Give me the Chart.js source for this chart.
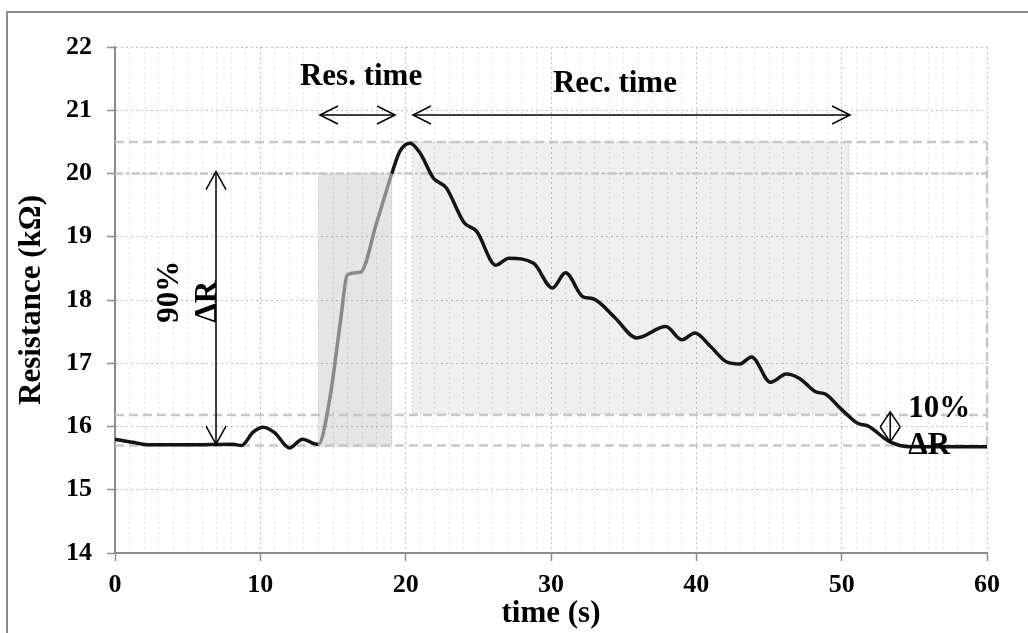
<!DOCTYPE html>
<html>
<head>
<meta charset="utf-8">
<script src="https://cdn.jsdelivr.net/npm/chart.js@4.4.1/dist/chart.umd.min.js"></script>
<style>
  html, body { margin: 0; padding: 0; background: #fff; }
  #wrap { position: relative; width: 1028px; height: 633px; }
</style>
</head>
<body>
<div id="wrap"><canvas id="resChart"></canvas></div>
<script>
// time (s)
const timeValues = [0, 1.2, 2.4, 5, 8.1, 8.7, 9.5, 10.2, 11.0, 12.0, 12.9, 13.9,
  14.0, 14.8, 15.5, 16.0, 16.9, 18.0, 19.05,
  19.6, 20.3, 21.0, 21.9, 22.8, 24.0, 24.9, 26.2, 27.1, 28.8, 30.1, 31.0, 32.2, 32.9,
  34.4, 35.9, 37.9, 39.0, 39.9, 41.0, 42.1, 43.0, 43.8, 45.1, 46.2, 47.1, 48.2, 48.9,
  49.9, 51.1, 51.8, 53.3, 54.7, 60];
// resistance (kΩ)
const resistanceValues = [15.80, 15.75, 15.71, 15.71, 15.72, 15.70, 15.91, 15.99, 15.90, 15.66, 15.80, 15.72,
  15.72, 16.47, 17.64, 18.40, 18.44, 19.22, 20.00,
  20.35, 20.48, 20.32, 19.93, 19.77, 19.23, 19.08, 18.55, 18.66, 18.58, 18.19, 18.43, 18.05, 18.02,
  17.72, 17.40, 17.58, 17.37, 17.48, 17.26, 17.02, 16.99, 17.10, 16.70, 16.83, 16.76, 16.55, 16.51,
  16.29, 16.05, 16.01, 15.76, 15.68, 15.68];

// response part of the curve (drawn grey)
const responseStart = 14.0;
const responseEnd = 19.05;

// y tick range
const yMin = 14, yMax = 22;
const xMin = 0, xMax = 60;

// reference levels (dashed) and shaded windows, in data units
const refLevels = [20.5, 20.0, 16.18, 15.70];
const resBox = [14.0, 19.05, 15.68, 20.0];   // x0, x1, y0, y1
const recBox = [20.45, 50.5, 16.2, 20.5];

const serif = '"Liberation Serif", "Times New Roman", serif';

// grab pixel helpers
function px(chart, x) { return chart.scales.x.getPixelForValue(x); }
function py(chart, y) { return chart.scales.y.getPixelForValue(y); }

// open V arrow head at (x, y) pointing in direction (dx, dy)
function arrowHead(ctx, x, y, dx, dy, len, half) {
  const l = Math.hypot(dx, dy);
  const ux = dx / l, uy = dy / l;
  const bx = x - ux * len, by = y - uy * len;
  ctx.beginPath();
  ctx.moveTo(bx - uy * half, by + ux * half);
  ctx.lineTo(x, y);
  ctx.lineTo(bx + uy * half, by - ux * half);
  ctx.stroke();
}

function doubleArrow(ctx, x1, y1, x2, y2, len, half) {
  ctx.beginPath();
  ctx.moveTo(x1, y1);
  ctx.lineTo(x2, y2);
  ctx.stroke();
  arrowHead(ctx, x2, y2, x2 - x1, y2 - y1, len, half);
  arrowHead(ctx, x1, y1, x1 - x2, y1 - y2, len, half);
}

const annotationPlugin = {
  id: 'annotations',
  beforeDraw(chart) {
    const ctx = chart.ctx;
    ctx.save();
    ctx.fillStyle = '#fff';
    ctx.fillRect(0, 0, chart.width, chart.height);
    // outer frame
    ctx.strokeStyle = '#8c8c8c';
    ctx.lineWidth = 2;
    ctx.beginPath();
    ctx.moveTo(7, chart.height);
    ctx.lineTo(7, 12);
    ctx.lineTo(chart.width, 12);
    ctx.stroke();
    ctx.restore();
  },
  beforeDatasetsDraw(chart) {
    const ctx = chart.ctx;
    ctx.save();
    // shaded windows
    [[resBox, 'rgba(150,150,150,0.25)'], [recBox, 'rgba(150,150,150,0.15)']].forEach(([b, fill]) => {
      const x0 = px(chart, b[0]), x1 = px(chart, b[1]);
      const y0 = py(chart, b[2]), y1 = py(chart, b[3]);
      ctx.fillStyle = fill;
      ctx.fillRect(x0, y1, x1 - x0, y0 - y1);
      ctx.strokeStyle = '#cfcfcf';
      ctx.lineWidth = 1;
      ctx.setLineDash([2, 2]);
      ctx.strokeRect(x0, y1, x1 - x0, y0 - y1);
    });
    // dashed reference levels
    ctx.strokeStyle = '#c8c8c8';
    ctx.lineWidth = 2.5;
    refLevels.forEach((v, i) => {
      ctx.setLineDash(i === 1 ? [8, 3, 3, 3] : [9, 5]);
      ctx.beginPath();
      ctx.moveTo(px(chart, xMin), py(chart, v));
      ctx.lineTo(px(chart, xMax), py(chart, v));
      ctx.stroke();
    });
    ctx.setLineDash([9, 5]);
    ctx.beginPath();
    ctx.moveTo(px(chart, xMax), py(chart, refLevels[0]));
    ctx.lineTo(px(chart, xMax), py(chart, refLevels[3]));
    ctx.stroke();
    ctx.restore();
  },
  afterDatasetsDraw(chart) {
    const ctx = chart.ctx;
    ctx.save();
    ctx.strokeStyle = '#000';
    ctx.fillStyle = '#000';
    ctx.lineWidth = 1.5;
    ctx.setLineDash([]);

    // Res. / Rec. time arrows
    const arrowY = py(chart, 20.925);
    doubleArrow(ctx, px(chart, 14.1), arrowY, px(chart, 19.27), arrowY, 18, 9);
    doubleArrow(ctx, px(chart, 20.5), arrowY, px(chart, 50.58), arrowY, 18, 9);
    // 90% arrow
    doubleArrow(ctx, px(chart, 6.95), py(chart, 20.03), px(chart, 6.95), py(chart, 15.72), 18, 10);
    // 10% arrow
    doubleArrow(ctx, px(chart, 53.34), py(chart, 16.23), px(chart, 53.34), py(chart, 15.755), 15, 10);

    ctx.font = 'bold 31px ' + serif;
    ctx.textBaseline = 'alphabetic';
    ctx.textAlign = 'center';
    ctx.fillText('Res. time', px(chart, 16.93), py(chart, 21.40));
    ctx.fillText('Rec. time', px(chart, 34.4), py(chart, 21.29));

    ctx.textAlign = 'left';
    ctx.fillText('10%', px(chart, 54.58), py(chart, 16.15));
    ctx.fillText('ΔR', px(chart, 54.58), py(chart, 15.57));

    // rotated 90% ΔR
    ctx.save();
    ctx.translate(0, py(chart, 17.64));
    ctx.rotate(-Math.PI / 2);
    ctx.textBaseline = 'middle';
    ctx.fillText('90%', 0, px(chart, 3.79));
    ctx.fillText('ΔR', 0, px(chart, 6.4));
    ctx.restore();

    ctx.restore();
  }
};

const points = timeValues.map((t, i) => ({ x: t, y: resistanceValues[i] }));

const ctx = document.getElementById('resChart').getContext('2d');
const resChart = new Chart(ctx, {
  type: 'line',
  data: {
    datasets: [{
      data: points,
      borderColor: '#141414',
      borderWidth: 3.5,
      pointRadius: 0,
      fill: false,
      cubicInterpolationMode: 'monotone',
      segment: {
        borderColor: c => (c.p0.parsed.x >= responseStart - 1e-6 && c.p1.parsed.x <= responseEnd + 1e-6) ? '#8a8a8a' : '#141414'
      }
    }]
  },
  options: {
    responsive: true,
    maintainAspectRatio: false,
    animation: false,
    layout: { padding: { left: 0, top: 47, right: 41, bottom: 0 } },
    plugins: {
      legend: { display: false },
      tooltip: { enabled: false }
    },
    scales: {
      x: {
        type: 'linear',
        min: xMin,
        max: xMax,
        afterFit: s => { s.height = 80; },
        ticks: {
          stepSize: 1,
          autoSkip: false,
          maxRotation: 0,
          padding: 9,
          color: '#000',
          font: { family: serif, size: 26, weight: 'bold' },
          callback: v => (v % 10 === 0 ? v : '')
        },
        grid: {
          color: c => (c.tick && c.tick.value % 10 === 0) ? '#bdbdbd' : '#e2e2e2',
          lineWidth: 1,
          tickLength: 8,
          tickColor: c => (c.tick && c.tick.value % 10 === 0) ? '#8c8c8c' : 'rgba(0,0,0,0)',
          tickWidth: 1.5
        },
        border: { display: true, color: '#8c8c8c', width: 2, dash: [2, 3] },
        title: {
          display: true,
          text: 'time (s)',
          color: '#000',
          font: { family: serif, size: 31, weight: 'bold' },
          padding: { top: 0, bottom: 0 }
        }
      },
      y: {
        min: yMin,
        max: yMax,
        afterFit: s => { s.width = 115; },
        ticks: {
          stepSize: 1,
          padding: 15,
          color: '#000',
          font: { family: serif, size: 26, weight: 'bold' }
        },
        grid: {
          color: '#bdbdbd',
          lineWidth: 1,
          tickLength: 8,
          tickColor: '#8c8c8c',
          tickWidth: 1.5
        },
        border: { display: true, color: '#8c8c8c', width: 2, dash: [2, 3] },
        title: {
          display: true,
          text: 'Resistance (kΩ)',
          color: '#000',
          font: { family: serif, size: 31, weight: 'bold' },
          padding: { top: 13, bottom: 0 }
        }
      }
    }
  },
  plugins: [annotationPlugin]
});
</script>
</body>
</html>
